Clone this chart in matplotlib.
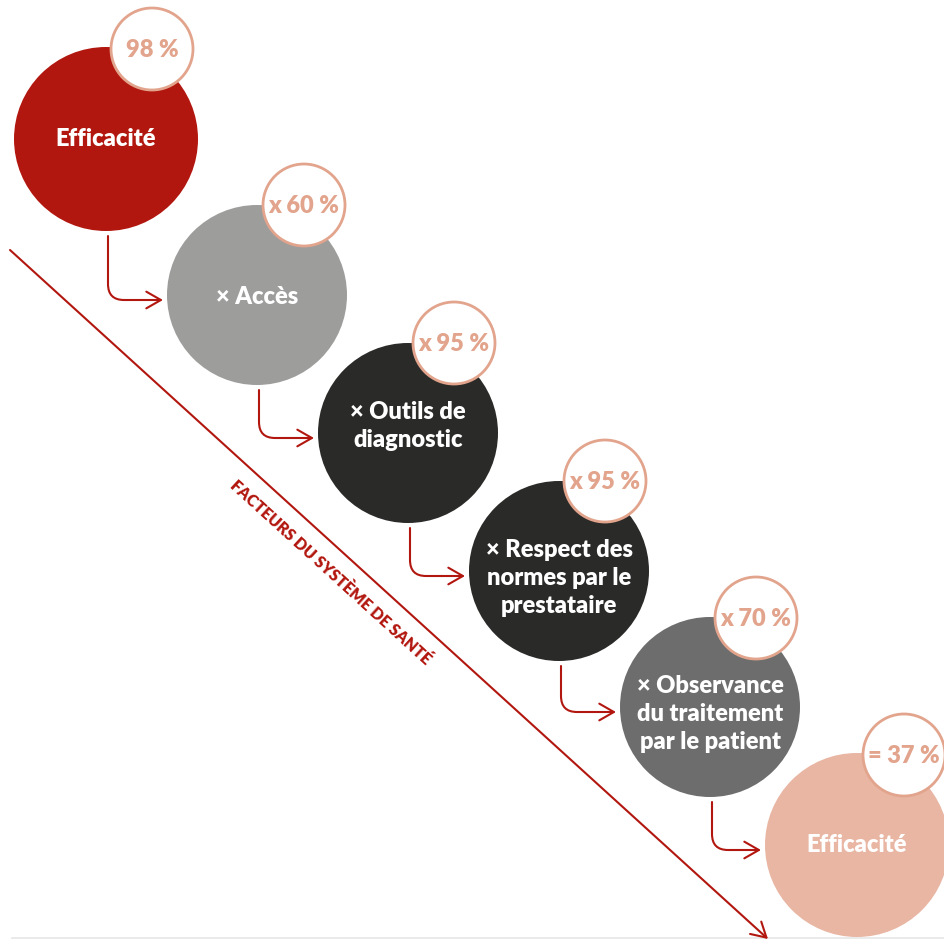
import matplotlib
matplotlib.use("Agg")
import matplotlib.pyplot as plt
from matplotlib.patches import Circle, FancyArrowPatch
from matplotlib.path import Path

# ---- data ----
labels = ["Efficacité", "× Accès", "× Outils de\ndiagnostic",
          "× Respect des\nnormes par le\nprestataire",
          "× Observance\ndu traitement\npar le patient", "Efficacité"]
badges = ["98 %", "x 60 %", "x 95 %", "x 95 %", "x 70 %", "= 37 %"]
axis_label = "FACTEURS DU SYSTÈME DE SANTÉ"

# ---- layout / style ----
centers = [(106, 139), (257, 295), (408, 433), (559, 571), (710, 707), (857, 845)]
radii = [92, 90, 90, 90, 90, 92]
text_dy = [0, 2, -7, 7, 7, 0]
badge_centers = [(152, 49), (304, 205), (454, 343), (605, 481), (756, 618), (904, 755)]
badge_r = 41
fills = ["#B2170F", "#9D9D9C", "#2A2A28", "#2A2A28", "#6D6D6D", "#E8B6A3"]
RED = "#B2170F"
SALMON = "#E2A48C"
FONT = ["Lato", "DejaVu Sans"]

W, H = 944, 939
fig = plt.figure(figsize=(W / 100, H / 100), dpi=100)
ax = fig.add_axes([0, 0, 1, 1])
ax.set_xlim(0, W)
ax.set_ylim(H, 0)
ax.set_aspect("equal")
ax.axis("off")

# bottom rule
ax.plot([12, W], [938, 938], color="#E6E6E6", lw=1.2, zorder=0)

# diagonal axis arrow
diag = FancyArrowPatch((10, 250), (768, 939), arrowstyle="->,head_length=7,head_width=4",
                       color=RED, lw=1.5, mutation_scale=1.5, zorder=1,
                       shrinkA=0, shrinkB=0)
ax.add_patch(diag)
ax.text(330, 573, axis_label, rotation=-42.3, rotation_mode="anchor",
        ha="center", va="center", color=RED, fontsize=11.5, fontweight="heavy",
        family=FONT, zorder=2)

# connectors
rr = 16
for i in range(len(centers) - 1):
    cx, cy = centers[i]
    nx, ny = centers[i + 1]
    x0 = cx + 2
    y0 = cy + radii[i] + 5
    y1 = ny + 5
    x1 = nx - radii[i + 1] - 4
    verts = [(x0, y0), (x0, y1 - rr), (x0, y1), (x0 + rr, y1), (x1, y1)]
    codes = [Path.MOVETO, Path.LINETO, Path.CURVE3, Path.CURVE3, Path.LINETO]
    arr = FancyArrowPatch(path=Path(verts, codes),
                          arrowstyle="->,head_length=7,head_width=4",
                          color=RED, lw=1.5, mutation_scale=1.5, zorder=2)
    ax.add_patch(arr)

# circles
for i, ((cx, cy), r) in enumerate(zip(centers, radii)):
    ax.add_patch(Circle((cx, cy), r, facecolor=fills[i], edgecolor="none", zorder=3))
    ax.text(cx, cy + text_dy[i], labels[i], ha="center", va="center", color="white",
            fontsize=17, fontweight="heavy", family=FONT, linespacing=1.32, zorder=4)

# badges
for (bx, by), t in zip(badge_centers, badges):
    ax.add_patch(Circle((bx, by), badge_r, facecolor="white", edgecolor=SALMON,
                        lw=2, zorder=5))
    ax.text(bx, by + 1, t, ha="center", va="center", color=SALMON,
            fontsize=17, fontweight="heavy", family=FONT, zorder=6)

fig.savefig("out.png", dpi=100, facecolor="white")
